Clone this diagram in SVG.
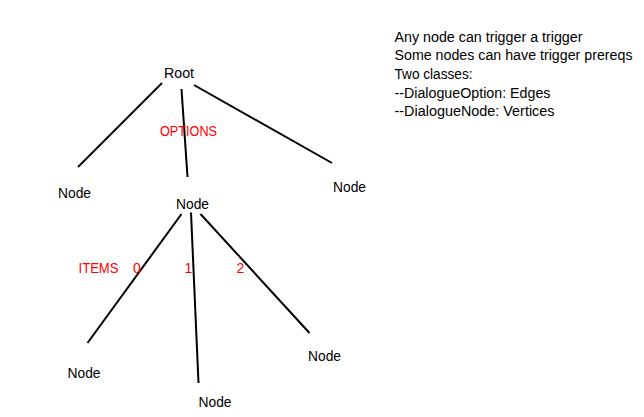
<svg xmlns="http://www.w3.org/2000/svg" width="644" height="417" viewBox="0 0 644 417">
<style>
text{font-family:"Liberation Sans",Arial,sans-serif;font-size:14px;fill:#000}
.red{fill:#ff0000}
.edge{stroke:#000;stroke-width:2;fill:none}
</style>
<rect width="644" height="417" fill="#fff"/>
<g id="connectors">
<line class="edge" x1="162" y1="83" x2="78" y2="167"/>
<line class="edge" x1="181.5" y1="89" x2="187.5" y2="177"/>
<line class="edge" x1="194" y1="85" x2="332" y2="163"/>
<line class="edge" x1="181.5" y1="214" x2="87.5" y2="343"/>
<line class="edge" x1="191" y1="212.5" x2="198.5" y2="383"/>
<line class="edge" x1="200.5" y1="214" x2="309.5" y2="333"/>
</g>
<g id="root"><text x="164" y="78" textLength="30" lengthAdjust="spacingAndGlyphs">Root</text></g>
<g id="node-left"><text x="58" y="197.5" textLength="33" lengthAdjust="spacingAndGlyphs">Node</text></g>
<g id="node-mid"><text x="176" y="209" textLength="33" lengthAdjust="spacingAndGlyphs">Node</text></g>
<g id="node-right"><text x="333" y="192" textLength="33" lengthAdjust="spacingAndGlyphs">Node</text></g>
<g id="node-bl"><text x="67.5" y="378" textLength="33" lengthAdjust="spacingAndGlyphs">Node</text></g>
<g id="node-bm"><text x="198.5" y="407" textLength="33" lengthAdjust="spacingAndGlyphs">Node</text></g>
<g id="node-br"><text x="308" y="361" textLength="33" lengthAdjust="spacingAndGlyphs">Node</text></g>
<g id="labels">
<text class="red" x="160" y="136" textLength="57" lengthAdjust="spacingAndGlyphs">OPTIONS</text>
<text class="red" x="78.5" y="272.5" textLength="40" lengthAdjust="spacingAndGlyphs">ITEMS</text>
<text class="red" x="133" y="272.5">0</text>
<text class="red" x="184.5" y="272.5">1</text>
<text class="red" x="236.5" y="272.5">2</text>
</g>
<g id="notes">
<text x="394.5" y="41.5" textLength="188" lengthAdjust="spacingAndGlyphs">Any node can trigger a trigger</text>
<text x="394.5" y="60" textLength="238" lengthAdjust="spacingAndGlyphs">Some nodes can have trigger prereqs</text>
<text x="394.5" y="78.5" textLength="78" lengthAdjust="spacingAndGlyphs">Two classes:</text>
<text x="394.5" y="97.5" textLength="156" lengthAdjust="spacingAndGlyphs">--DialogueOption: Edges</text>
<text x="394.5" y="116" textLength="160" lengthAdjust="spacingAndGlyphs">--DialogueNode: Vertices</text>
</g>
</svg>
